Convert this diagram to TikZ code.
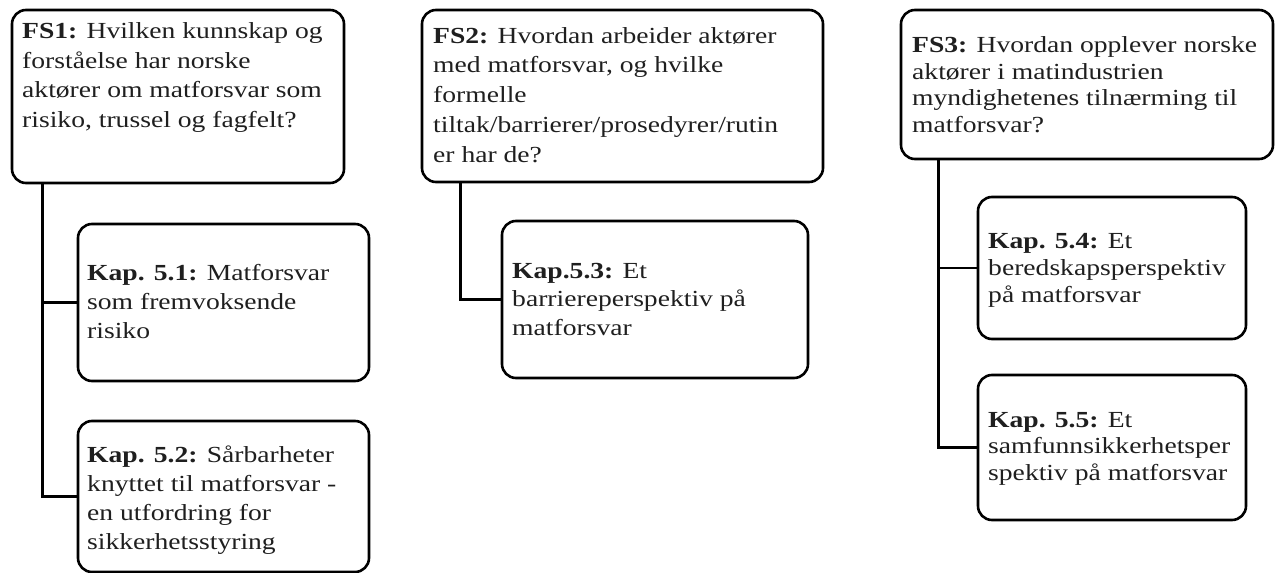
\documentclass[tikz,border=0pt]{standalone}
\usepackage{fontspec}
\setmainfont{Liberation Serif}[FakeStretch=1.2]
\begin{document}
\begin{tikzpicture}[x=1pt,y=-1pt,
  qbox/.style={draw=black, line width=2.6pt, rounded corners=14pt, fill=white, inner sep=0pt},
  % texts are placed by the baseline of their last line
  qtext/.style={anchor=base west, align=left, inner sep=0pt, text=black!88,
    font=\fontsize{23}{#1}\selectfont},
  qtext/.default=29.5,
  link/.style={draw=black, line width=2.6pt}]
\useasboundingbox (0,0) rectangle (1275,573);

% question boxes
\node[qbox, minimum width=332pt, minimum height=173pt] (fs1) at (178,96.5) {};
\node[qbox, minimum width=401pt, minimum height=172pt] (fs2) at (622.5,96) {};
\node[qbox, minimum width=372pt, minimum height=149pt] (fs3) at (1087,84.5) {};

% chapter boxes
\node[qbox, minimum width=291pt, minimum height=157pt] (k51) at (223.5,302.5) {};
\node[qbox, minimum width=291pt, minimum height=151pt] (k52) at (223.5,496.5) {};
\node[qbox, minimum width=306pt, minimum height=157pt] (k53) at (655,299.5) {};
\node[qbox, minimum width=268pt, minimum height=142pt] (k54) at (1112,268) {};
\node[qbox, minimum width=268pt, minimum height=145pt] (k55) at (1112,447.5) {};

% connectors
\draw[link] ([xshift=32pt]fs1.south west) |- (k52.west);
\draw[link] ([xshift=32pt]fs1.south west |- k51.west) -- (k51.west);
\draw[link] ([xshift=40pt]fs2.south west) |- (k53.west);
\draw[link] ([xshift=39pt]fs3.south west) |- (k55.west);
\draw[link] ([xshift=39pt]fs3.south west |- k54.west) -- (k54.west);

% texts
\node[qtext] (fs1t) at (22,127) {\textbf{FS1:} Hvilken kunnskap og\\forståelse har norske\\aktører om matforsvar som\\risiko, trussel og fagfelt?};
\node[qtext=29.7] (fs2t) at (433,162) {\textbf{FS2:} Hvordan arbeider aktører\\med matforsvar, og hvilke\\formelle\\tiltak/barrierer/prosedyrer/rutin\\er har de?};
\node[qtext=26.5] (fs3t) at (912,132) {\textbf{FS3:} Hvordan opplever norske\\aktører i matindustrien\\myndighetenes tilnærming til\\matforsvar?};
\node[qtext=29] (k51t) at (87,338) {\textbf{Kap. 5.1:} Matforsvar\\som fremvoksende\\risiko};
\node[qtext=29] (k52t) at (87,549) {\textbf{Kap. 5.2:} Sårbarheter\\knyttet til matforsvar -\\en utfordring for\\sikkerhetsstyring};
\node[qtext=28.5] (k53t) at (512,335) {\textbf{Kap.5.3:} Et\\barriereperspektiv på\\matforsvar};
\node[qtext=27] (k54t) at (988,302) {\textbf{Kap. 5.4:} Et\\beredskapsperspektiv\\på matforsvar};
\node[qtext=26.5] (k55t) at (988,480) {\textbf{Kap. 5.5:} Et\\samfunnsikkerhetsper\\spektiv på matforsvar};
\end{tikzpicture}
\end{document}
